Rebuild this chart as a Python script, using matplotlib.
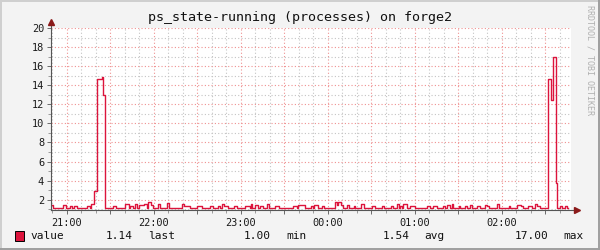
import matplotlib
matplotlib.use("Agg")
import matplotlib.pyplot as plt
from matplotlib.ticker import MultipleLocator
from matplotlib.patches import Rectangle
from matplotlib.lines import Line2D

# minutes after 21:00 where the value changes, and the value held from there on
minutes = [-10.7, -9.0, -2.2, -0.3, 2.4, 3.8, 5.2, 7.0, 13.9, 16.2,
           16.7, 19.0, 20.8, 24.3, 25.2, 26.2, 32.3, 34.1, 40.3, 43.1,
           43.8, 45.7, 47.2, 48.8, 50.2, 53.7, 55.3, 56.4, 58.3, 59.9,
           62.9, 64.5, 69.5, 70.5, 79.4, 81.0, 85.2, 89.8, 93.2, 99.0,
           101.2, 104.3, 105.9, 107.0, 108.6, 111.6, 115.7, 117.4, 123.1, 126.6,
           127.2, 128.1, 130.0, 132.3, 133.4, 135.7, 138.0, 139.7, 143.8, 146.6,
           156.4, 158.8, 159.5, 164.5, 168.6, 170.2, 170.9, 173.7, 176.0, 177.8,
           185.2, 186.4, 187.5, 189.3, 190.5, 193.2, 194.8, 198.0, 199.0, 203.1,
           205.0, 211.0, 213.0, 217.4, 219.2, 224.0, 225.0, 227.7, 229.3, 230.0,
           231.2, 232.3, 234.6, 236.9, 240.4, 248.4, 250.7, 253.0, 255.3, 259.5,
           261.0, 262.2, 264.5, 265.7, 266.8, 270.5, 271.5, 275.0, 276.0, 278.3,
           279.7, 283.0, 285.0, 288.6, 290.2, 291.5, 296.7, 298.1, 305.0, 306.0,
           310.5, 313.3, 314.5, 318.5, 320.8, 323.1, 324.7, 326.5, 331.7, 332.3,
           334.1, 335.3, 335.7, 337.6, 338.5, 340.4, 341.5, 343.8, 345.0, 345.9]
running = [1.4, 1.15, 1.4, 1.15, 1.35, 1.15, 1.3, 1.15, 1.3, 1.15,
           1.6, 2.9, 14.7, 14.85, 13.0, 1.15, 1.35, 1.15, 1.6, 1.15,
           1.35, 1.15, 1.6, 1.15, 1.4, 1.5, 1.15, 1.75, 1.4, 1.15,
           1.5, 1.15, 1.7, 1.15, 1.6, 1.35, 1.15, 1.3, 1.15, 1.35,
           1.15, 1.35, 1.15, 1.6, 1.35, 1.15, 1.3, 1.15, 1.3, 1.15,
           1.6, 1.15, 1.4, 1.15, 1.3, 1.15, 1.5, 1.15, 1.35, 1.15,
           1.35, 1.15, 1.4, 1.15, 1.35, 1.15, 1.45, 1.15, 1.35, 1.15,
           1.8, 1.4, 1.8, 1.4, 1.15, 1.4, 1.15, 1.3, 1.15, 1.5,
           1.15, 1.3, 1.15, 1.35, 1.15, 1.3, 1.15, 1.5, 1.15, 1.35,
           1.15, 1.5, 1.15, 1.3, 1.15, 1.35, 1.15, 1.3, 1.15, 1.35,
           1.15, 1.4, 1.15, 1.5, 1.15, 1.35, 1.15, 1.35, 1.15, 1.4,
           1.15, 1.3, 1.15, 1.4, 1.35, 1.15, 1.5, 1.15, 1.3, 1.15,
           1.4, 1.35, 1.15, 1.35, 1.15, 1.5, 1.3, 1.15, 12.1, 14.7,
           12.5, 14.7, 17.0, 3.75, 1.15, 1.3, 1.15, 1.3, 1.15, 1.15]

hour_labels = ["21:00", "22:00", "23:00", "00:00", "01:00", "02:00"]
y_labels = ["2", "4", "6", "8", "10", "12", "14", "16", "18", "20"]
legend_stats = [("1.14", "last"), ("1.00", "min"), ("1.54", "avg"), ("17.00", "max")]

LINE = "#dc143c"
MONO = "DejaVu Sans Mono"

fig = plt.figure(figsize=(6, 2.5), dpi=100)
fig.patch.set_facecolor("#f3f3f3")
ax = fig.add_axes([51 / 600, 40 / 250, 520 / 600, 182 / 250])
ax.set_facecolor("white")

ax.set_xlim(-10.7, 347.9)
ax.set_ylim(0.92, 20)

# grid: red-ish every 30 min / 2 units, gray every 10 min / 1 unit
ax.xaxis.set_major_locator(MultipleLocator(30))
ax.xaxis.set_minor_locator(MultipleLocator(10))
ax.yaxis.set_major_locator(MultipleLocator(2))
ax.yaxis.set_minor_locator(MultipleLocator(1))
ax.grid(which="minor", color="#c4c4c4", linestyle=(0, (1, 2)), linewidth=0.8)
ax.grid(which="major", color="#ef9090", linestyle=(0, (1, 2)), linewidth=0.8)
ax.set_axisbelow(True)

ax.plot(minutes, running, drawstyle="steps-post", color=LINE, linewidth=1.0, zorder=3)

# tick labels
xt = [m for m in range(0, 346, 30)]
xl = [hour_labels[m // 60] if m % 60 == 0 else "" for m in xt]
ax.set_xticks(xt)
ax.set_xticklabels(xl, fontfamily=MONO, fontsize=7.4, color="#1a1a1a")
ax.set_yticks([float(v) for v in y_labels])
ax.set_yticklabels(y_labels, fontfamily=MONO, fontsize=7.4, color="#1a1a1a")
ax.tick_params(which="major", length=3, width=0.6, color="#555555", pad=2)
ax.tick_params(which="minor", length=2, width=0.5, color="#777777")
ax.tick_params(axis="x", pad=3)

for s in ax.spines.values():
    s.set_visible(False)

# axes with arrows
ax.add_line(Line2D([0, 0], [0, 1.03], transform=ax.transAxes, color="#555555",
                   linewidth=0.8, clip_on=False, zorder=4))
ax.add_line(Line2D([0, 1.01], [0, 0], transform=ax.transAxes, color="#555555",
                   linewidth=0.8, clip_on=False, zorder=4))
ax.plot([0], [1.035], marker="^", markersize=4, color="#8b1a1a", transform=ax.transAxes,
        clip_on=False, zorder=5)
ax.plot([1.012], [0], marker=">", markersize=4, color="#8b1a1a", transform=ax.transAxes,
        clip_on=False, zorder=5)

fig.text(0.5, 1 - 18 / 250, "ps_state-running (processes) on forge2", ha="center", va="center",
         fontfamily=MONO, fontsize=9.6, color="#111111")

fig.text(590 / 600, 1 - 5 / 250, "RRDTOOL / TOBI OETIKER", rotation=270, ha="center", va="top",
         fontfamily=MONO, fontsize=6, color="#b0b0b0")

# legend row
ly = 1 - 236 / 250
fig.patches.append(Rectangle((15 / 600, 1 - 241 / 250), 9 / 600, 10 / 250, transform=fig.transFigure,
                             facecolor=LINE, edgecolor="black", linewidth=0.7))
fig.text(30 / 600, ly, "value", ha="left", va="center", fontfamily=MONO, fontsize=8, color="#111111")
num_right = [133, 271, 410, 548]
word_left = [148, 286, 424, 563]
for (num, word), xr, xw in zip(legend_stats, num_right, word_left):
    fig.text(xr / 600, ly, num, ha="right", va="center", fontfamily=MONO, fontsize=8, color="#111111")
    fig.text(xw / 600, ly, word, ha="left", va="center", fontfamily=MONO, fontsize=8, color="#111111")

# frame around the image
fig.add_artist(Line2D([0.002, 0.002], [0, 1], transform=fig.transFigure, color="#cfcfcf", linewidth=1.4))
fig.add_artist(Line2D([0, 1], [0.998, 0.998], transform=fig.transFigure, color="#cfcfcf", linewidth=1.4))
fig.add_artist(Line2D([0, 1], [0.006, 0.006], transform=fig.transFigure, color="#9e9e9e", linewidth=1.4))
fig.add_artist(Line2D([0.998, 0.998], [0, 1], transform=fig.transFigure, color="#9e9e9e", linewidth=1.4))

fig.savefig("out.png", dpi=100, facecolor=fig.get_facecolor())
